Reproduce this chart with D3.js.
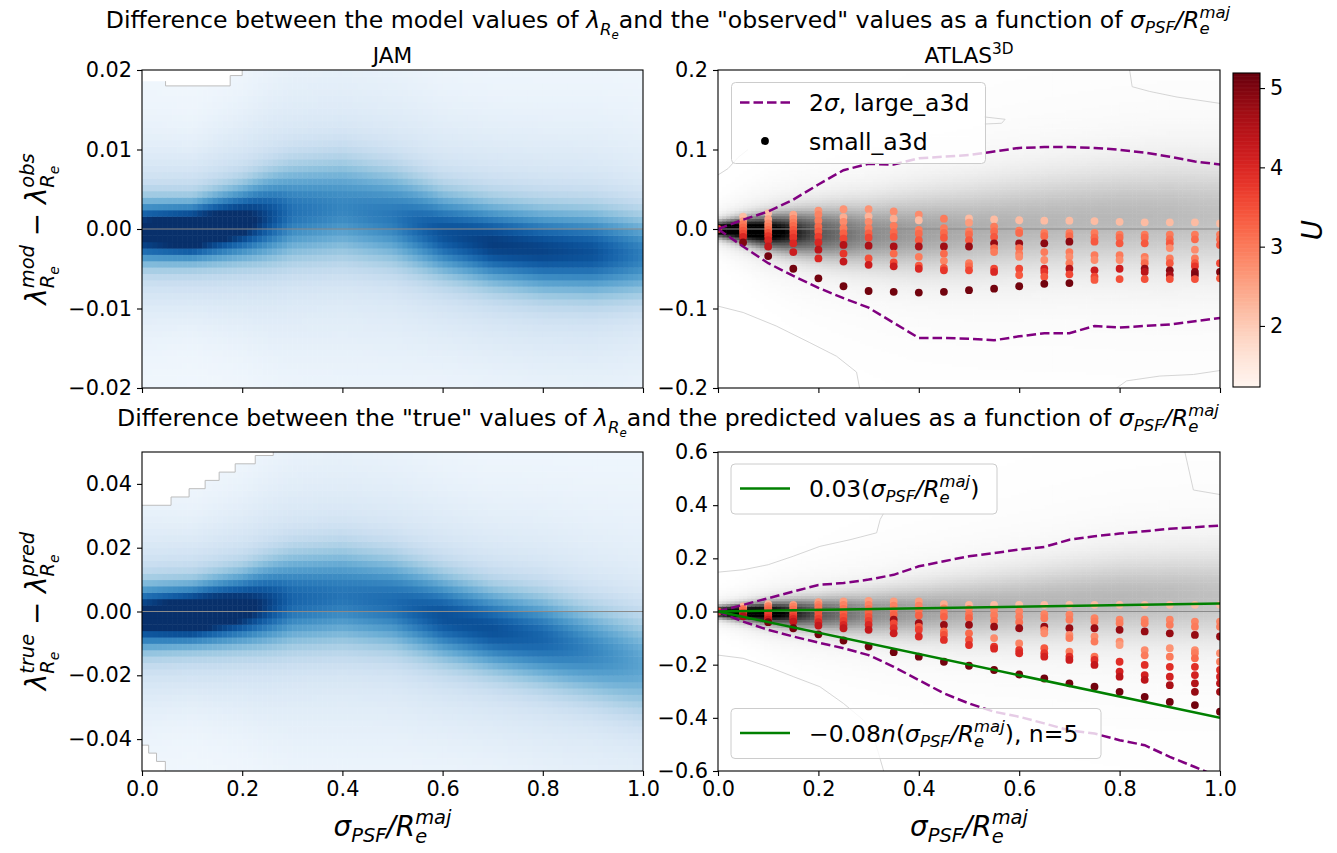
<!DOCTYPE html>
<html>
<head>
<meta charset="utf-8">
<script src="https://cdn.jsdelivr.net/npm/d3@7"></script>
<style>
body { margin: 0; background: #fff; }
text { font-family: "DejaVu Sans", sans-serif; white-space: pre; }
</style>
</head>
<body>
<script>
// ---------- data ----------

// JAM density ridge (blue panels): centre, width, peak at these x
var jamX = [0, 0.1, 0.2, 0.3, 0.4, 0.5, 0.6, 0.7, 0.8, 0.9, 1.0];
var jamTopCenter = [-0.0003, -0.0003, 0.0008, 0.0022, 0.0027, 0.0016, -0.0005, -0.0018, -0.0026, -0.0029, -0.0032];
var jamTopWidth  = [0.0024, 0.0022, 0.0028, 0.0039, 0.0042, 0.0039, 0.0034, 0.0033, 0.0034, 0.0035, 0.0035];
var jamTopPeak   = [0.85, 1.0, 0.83, 0.56, 0.5, 0.54, 0.66, 0.72, 0.7, 0.66, 0.52];
var jamBotCenter = [-0.0016, -0.0010, 0.0010, 0.0040, 0.0050, 0.0030, -0.0016, -0.0055, -0.0085, -0.0125, -0.0165];
var jamBotWidth  = [0.0062, 0.0057, 0.0070, 0.0094, 0.0100, 0.0094, 0.0086, 0.0084, 0.0090, 0.0096, 0.0107];
var jamBotPeak   = [0.85, 1.0, 0.83, 0.6, 0.55, 0.58, 0.66, 0.66, 0.6, 0.5, 0.4];

// ATLAS3D density ridge (grey panels)
var a3dX = [0, 0.05, 0.1, 0.15, 0.2, 0.3, 0.4, 0.5, 0.6, 0.7, 0.8, 0.9, 1.0];
var a3dTopCenter = [0, -0.001, -0.003, -0.004, -0.005, -0.006, -0.004, 0.0, 0.006, 0.011, 0.014, 0.016, 0.017];
var a3dTopWidth  = [0.007, 0.011, 0.015, 0.019, 0.023, 0.030, 0.036, 0.040, 0.043, 0.045, 0.047, 0.049, 0.050];
var a3dTopPeak   = [1.0, 1.0, 0.95, 0.78, 0.62, 0.46, 0.40, 0.36, 0.34, 0.33, 0.33, 0.32, 0.30];
var a3dBotCenter = [0, -0.002, -0.004, -0.006, -0.007, -0.006, 0.0, 0.012, 0.025, 0.040, 0.050, 0.055, 0.060];
var a3dBotWidth  = [0.015, 0.022, 0.030, 0.038, 0.046, 0.062, 0.076, 0.088, 0.098, 0.107, 0.115, 0.120, 0.125];
var a3dBotPeak   = [1.0, 1.0, 0.95, 0.78, 0.62, 0.46, 0.40, 0.36, 0.34, 0.33, 0.33, 0.32, 0.30];

// 2 sigma curves of large_a3d
var sigmaX = [0, 0.05, 0.1, 0.15, 0.2, 0.25, 0.3, 0.35, 0.4, 0.45, 0.5, 0.55, 0.6, 0.65, 0.7, 0.75, 0.8, 0.85, 0.9, 0.95, 1.0];
var topSigmaUp = [0, 0.0117, 0.022, 0.037, 0.056, 0.074, 0.082, 0.081, 0.089, 0.091, 0.093, 0.0975, 0.102, 0.103, 0.103, 0.102, 0.0996, 0.096, 0.091, 0.085, 0.081];
var topSigmaLo = [0, -0.022, -0.043, -0.059, -0.074, -0.087, -0.099, -0.118, -0.137, -0.137, -0.138, -0.140, -0.135, -0.131, -0.131, -0.122, -0.124, -0.122, -0.120, -0.116, -0.112];
var botSigmaUp = [0, 0.025, 0.050, 0.075, 0.100, 0.107, 0.120, 0.138, 0.170, 0.189, 0.208, 0.220, 0.233, 0.243, 0.270, 0.283, 0.293, 0.302, 0.311, 0.317, 0.323];
var botSigmaLo = [0, -0.038, -0.069, -0.094, -0.117, -0.138, -0.164, -0.208, -0.258, -0.308, -0.346, -0.377, -0.396, -0.421, -0.447, -0.459, -0.484, -0.503, -0.547, -0.585, -0.625];

// small_a3d points: one list of [value, U] per x column
var dotX = [0, 0.05, 0.1, 0.15, 0.2, 0.25, 0.3, 0.35, 0.4, 0.45, 0.5, 0.55, 0.6, 0.65, 0.7, 0.75, 0.8, 0.85, 0.9, 0.95, 1.0];
var topDots = [
  [[0, 3.6]],
  [[0.0155, 2.2], [0.010, 2.6], [0.006, 3.0], [0.002, 3.2], [-0.002, 3.4], [-0.006, 3.6], [-0.010, 4.0], [-0.017, 5.0]],
  [[0.020, 2.2], [0.0125, 2.5], [0.007, 2.8], [0.003, 3.0], [-0.001, 3.2], [-0.005, 3.5], [-0.009, 3.8], [-0.014, 4.0], [-0.022, 4.3], [-0.034, 5.1]],
  [[0.018, 2.5], [0.013, 2.8], [0.008, 3.0], [0.004, 3.2], [-0.001, 3.4], [-0.006, 3.6], [-0.011, 3.8], [-0.018, 4.0], [-0.029, 4.2], [-0.050, 5.1]],
  [[0.023, 2.7], [0.018, 2.9], [0.0105, 3.0], [0.003, 3.2], [-0.003, 3.4], [-0.0097, 3.7], [-0.017, 4.0], [-0.026, 4.4], [-0.037, 4.0], [-0.062, 5.1]],
  [[0.025, 2.7], [0.015, 2.4], [0.009, 2.8], [0.001, 3.0], [-0.0055, 3.3], [-0.012, 3.6], [-0.020, 4.5], [-0.031, 3.8], [-0.041, 4.3], [-0.072, 5.1]],
  [[0.025, 2.7], [0.016, 2.3], [0.009, 2.8], [0.001, 3.0], [-0.0055, 3.3], [-0.011, 3.6], [-0.021, 4.6], [-0.037, 3.5], [-0.045, 4.2], [-0.078, 5.1]],
  [[0.022, 2.8], [0.013, 2.4], [0.004, 3.0], [-0.004, 3.2], [-0.010, 3.4], [-0.022, 4.6], [-0.031, 3.2], [-0.042, 3.6], [-0.047, 4.2], [-0.079, 5.1]],
  [[0.018, 2.8], [0.011, 2.2], [-0.001, 3.0], [-0.006, 3.2], [-0.014, 3.4], [-0.022, 4.6], [-0.035, 3.0], [-0.046, 3.4], [-0.050, 4.0], [-0.080, 5.1]],
  [[0.013, 3.0], [0.001, 3.0], [-0.005, 3.2], [-0.011, 3.4], [-0.022, 4.7], [-0.031, 3.2], [-0.040, 2.9], [-0.049, 3.4], [-0.052, 3.8], [-0.079, 5.1]],
  [[0.0134, 2.2], [0.008, 2.6], [-0.003, 3.0], [-0.007, 3.2], [-0.014, 3.4], [-0.022, 4.8], [-0.043, 3.0], [-0.047, 3.2], [-0.052, 3.6], [-0.077, 5.1]],
  [[0.012, 2.2], [0.003, 3.0], [-0.003, 3.2], [-0.010, 3.4], [-0.018, 4.8], [-0.024, 3.2], [-0.029, 3.0], [-0.050, 3.6], [-0.054, 4.0], [-0.075, 5.1]],
  [[0.011, 2.2], [-0.002, 3.0], [-0.005, 3.2], [-0.018, 4.8], [-0.024, 3.2], [-0.031, 3.0], [-0.035, 2.8], [-0.050, 3.6], [-0.058, 3.4], [-0.072, 5.1]],
  [[0.0105, 2.2], [-0.005, 3.0], [-0.009, 3.2], [-0.018, 4.9], [-0.029, 3.0], [-0.039, 2.8], [-0.050, 4.2], [-0.054, 3.8], [-0.060, 3.4], [-0.069, 5.1]],
  [[0.0105, 2.2], [-0.005, 3.0], [-0.009, 3.2], [-0.016, 4.9], [-0.029, 3.0], [-0.035, 2.8], [-0.043, 3.0], [-0.050, 4.5], [-0.057, 3.6], [-0.068, 5.1]],
  [[0.010, 2.2], [-0.005, 3.0], [-0.011, 3.2], [-0.016, 3.4], [-0.033, 3.0], [-0.039, 2.8], [-0.052, 4.2], [-0.060, 3.6], [-0.064, 3.4]],
  [[0.009, 2.2], [-0.007, 3.0], [-0.011, 3.2], [-0.018, 3.4], [-0.033, 3.0], [-0.039, 2.8], [-0.050, 4.2], [-0.063, 3.5]],
  [[0.0084, 2.2], [-0.007, 3.0], [-0.011, 3.2], [-0.018, 3.4], [-0.035, 3.0], [-0.039, 2.8], [-0.043, 3.2], [-0.050, 4.8], [-0.054, 4.4], [-0.063, 3.5]],
  [[0.0084, 2.2], [-0.007, 3.0], [-0.013, 3.2], [-0.018, 3.4], [-0.024, 2.8], [-0.037, 3.0], [-0.043, 3.4], [-0.052, 4.9], [-0.058, 4.6], [-0.063, 3.5]],
  [[0.0084, 2.2], [-0.007, 3.0], [-0.013, 3.2], [-0.026, 2.8], [-0.037, 3.0], [-0.043, 3.4], [-0.047, 3.8], [-0.054, 4.9], [-0.058, 5.0], [-0.063, 3.5]],
  [[0.007, 2.2], [-0.007, 3.0], [-0.013, 3.2], [-0.020, 3.4], [-0.043, 3.6], [-0.054, 5.0], [-0.062, 3.4]]
];
var botDots = [
  [[0, 3.6]],
  [[0.019, 2.3], [0.010, 3.0], [0.004, 3.2], [-0.004, 3.5], [-0.012, 4.0], [-0.018, 4.6]],
  [[0.028, 2.3], [0.020, 2.9], [0.012, 3.1], [0.004, 3.3], [-0.006, 3.5], [-0.015, 3.7], [-0.024, 3.9], [-0.031, 4.2], [-0.040, 5.1]],
  [[0.025, 2.6], [0.018, 2.9], [0.008, 3.1], [-0.002, 3.3], [-0.012, 3.5], [-0.020, 3.7], [-0.028, 4.0], [-0.038, 4.3], [-0.063, 5.1]],
  [[0.035, 2.6], [0.025, 2.9], [0.015, 3.1], [0.0, 3.3], [-0.015, 3.5], [-0.028, 3.7], [-0.040, 4.0], [-0.053, 4.3], [-0.086, 5.1]],
  [[0.038, 2.6], [0.025, 2.9], [0.010, 3.1], [-0.005, 3.3], [-0.020, 3.5], [-0.035, 3.7], [-0.050, 4.0], [-0.063, 4.3], [-0.109, 5.1]],
  [[0.040, 2.6], [0.025, 2.9], [0.010, 3.1], [-0.005, 3.3], [-0.020, 3.5], [-0.035, 3.7], [-0.050, 4.0], [-0.069, 4.3], [-0.132, 5.1]],
  [[0.038, 2.6], [0.022, 2.9], [0.005, 3.1], [-0.012, 3.3], [-0.031, 4.7], [-0.045, 3.6], [-0.063, 3.9], [-0.082, 4.2], [-0.153, 5.1]],
  [[0.038, 2.6], [0.022, 2.9], [0.005, 3.1], [-0.015, 3.3], [-0.044, 4.7], [-0.058, 3.4], [-0.069, 3.7], [-0.094, 4.0], [-0.170, 5.1]],
  [[0.028, 2.4], [0.012, 2.9], [-0.005, 3.1], [-0.020, 3.3], [-0.050, 4.8], [-0.075, 3.2], [-0.088, 3.5], [-0.107, 3.9], [-0.189, 5.1]],
  [[0.025, 2.3], [0.010, 2.9], [-0.010, 3.1], [-0.025, 3.3], [-0.050, 4.8], [-0.082, 3.2], [-0.107, 3.5], [-0.126, 3.9], [-0.204, 5.1]],
  [[0.025, 2.2], [0.006, 2.9], [-0.015, 3.0], [-0.035, 3.1], [-0.057, 4.8], [-0.100, 2.8], [-0.132, 3.8], [-0.140, 4.0], [-0.220, 5.1]],
  [[0.025, 2.2], [0.0, 2.9], [-0.020, 3.0], [-0.040, 3.1], [-0.063, 4.8], [-0.120, 2.9], [-0.145, 3.8], [-0.157, 4.0], [-0.237, 5.1]],
  [[0.025, 2.2], [-0.010, 2.9], [-0.025, 3.0], [-0.057, 4.8], [-0.070, 3.0], [-0.082, 2.8], [-0.138, 3.4], [-0.157, 3.8], [-0.170, 4.1], [-0.252, 5.1]],
  [[0.025, 2.2], [-0.012, 2.9], [-0.031, 3.0], [-0.063, 4.8], [-0.088, 2.8], [-0.100, 3.0], [-0.151, 3.0], [-0.170, 3.9], [-0.182, 4.2], [-0.270, 5.1]],
  [[0.025, 2.2], [-0.025, 2.9], [-0.038, 3.0], [-0.063, 4.8], [-0.094, 2.8], [-0.113, 3.0], [-0.170, 3.1], [-0.182, 3.9], [-0.201, 4.3], [-0.283, 5.1]],
  [[0.025, 2.2], [-0.031, 2.9], [-0.044, 3.0], [-0.069, 4.8], [-0.113, 2.8], [-0.126, 2.6], [-0.189, 3.9], [-0.226, 4.1], [-0.245, 4.4], [-0.302, 5.1]],
  [[0.025, 2.2], [-0.031, 2.9], [-0.044, 3.0], [-0.075, 4.8], [-0.145, 2.8], [-0.165, 3.0], [-0.201, 3.9], [-0.239, 4.1], [-0.257, 4.4], [-0.321, 5.1]],
  [[0.025, 2.2], [-0.031, 2.9], [-0.050, 3.0], [-0.082, 4.8], [-0.138, 2.7], [-0.170, 3.0], [-0.208, 3.9], [-0.245, 4.1], [-0.277, 4.6], [-0.340, 5.1]],
  [[0.025, 2.2], [-0.038, 2.9], [-0.057, 3.0], [-0.088, 4.8], [-0.145, 2.8], [-0.157, 3.0], [-0.176, 3.2], [-0.208, 3.9], [-0.239, 4.1], [-0.270, 4.5], [-0.302, 4.8], [-0.352, 5.1]],
  [[0.025, 2.2], [-0.038, 2.9], [-0.057, 3.0], [-0.094, 4.8], [-0.157, 2.8], [-0.189, 3.0], [-0.220, 3.9], [-0.245, 4.1], [-0.270, 4.4], [-0.302, 4.7], [-0.377, 5.1]]
];

// fitted lines (coefficients from the legend)
var fitUpper = 0.03;
var fitLower = -0.08, fitN = 5;

// outer density contours [x, value]
var jamTopCorner = [[0.047, 0.0186], [0.047, 0.018], [0.176, 0.018], [0.176, 0.0193], [0.2, 0.0193], [0.2, 0.02]];
var jamBotCornerUp = [[0, 0.0333], [0.058, 0.0333], [0.058, 0.0359], [0.094, 0.0359], [0.094, 0.0385], [0.126, 0.0385], [0.126, 0.0411], [0.154, 0.0411], [0.154, 0.0437], [0.186, 0.0437], [0.186, 0.0463], [0.226, 0.0463], [0.226, 0.0489], [0.262, 0.0489], [0.262, 0.05]];
var jamBotCornerLo = [[0, -0.0419], [0.0133, -0.0419], [0.0133, -0.0444], [0.029, -0.0444], [0.029, -0.047], [0.0466, -0.047], [0.0466, -0.05]];
var a3dTopContours = [
  [[0, 0.068], [0.02, 0.076], [0.04, 0.09], [0.06, 0.10]],
  [[0.53, 0.141], [0.572, 0.138], [0.565, 0.133], [0.53, 0.132]],
  [[0.82, 0.2], [0.825, 0.179], [0.86, 0.173], [0.914, 0.166], [1.0, 0.158]],
  [[0, -0.097], [0.05, -0.105], [0.116, -0.122], [0.183, -0.143], [0.236, -0.16], [0.276, -0.18], [0.282, -0.2]],
  [[0.794, -0.2], [0.814, -0.191], [0.88, -0.185], [0.947, -0.183], [1.0, -0.178]]
];
var a3dBotContours = [
  [[0, 0.148], [0.05, 0.157], [0.1, 0.176], [0.15, 0.208], [0.203, 0.245], [0.263, 0.27], [0.316, 0.296], [0.323, 0.346], [0.33, 0.37]],
  [[0.93, 0.6], [0.947, 0.457], [1.0, 0.44]],
  [[0, -0.164], [0.05, -0.176], [0.1, -0.208], [0.15, -0.245], [0.203, -0.283], [0.25, -0.346], [0.29, -0.409], [0.31, -0.47], [0.33, -0.6]]
];

// ticks
var xTicks = [0, 0.2, 0.4, 0.6, 0.8, 1.0];
var jamTopTicks = [-0.02, -0.01, 0, 0.01, 0.02];
var jamBotTicks = [-0.04, -0.02, 0, 0.02, 0.04];
var a3dTopTicks = [-0.2, -0.1, 0, 0.1, 0.2];
var a3dBotTicks = [-0.6, -0.4, -0.2, 0, 0.2, 0.4, 0.6];
var uRange = [1.23, 5.19];
var uTicks = [2, 3, 4, 5];

// ---------- layout ----------
var svg = d3.select("body").append("svg").attr("width", 1337).attr("height", 853);
var tickFs = 20.8, labFs = 27.8, legFs = 23.5, tFs = 23.6;
var purple = "#800080", green = "#008000";

function measure(str, fs, it) {
  var t = svg.append("text").attr("font-size", fs).attr("font-style", it ? "italic" : "normal").text(str);
  var w = t.node().getComputedTextLength();
  t.remove();
  return w;
}

// draw text made of pieces {t, fs, o (baseline shift px), it, dx}
function mathText(x, y, parts, anchor, rot) {
  var txt = svg.append("text").attr("text-anchor", anchor || "start")
    .attr("transform", "translate(" + x + "," + y + ")" + (rot ? " rotate(-90)" : ""));
  var cur = 0;
  parts.forEach(function(p) {
    var o = p.o || 0;
    var ts = txt.append("tspan").attr("font-size", p.fs)
      .attr("font-style", p.it ? "italic" : "normal")
      .attr("dy", o - cur).text(p.t);
    if (p.dx) ts.attr("dx", p.dx);
    cur = o;
  });
  return txt;
}

// lambda_{R_e} with optional superscript
function lamRe(fs, sup) {
  var s1 = fs * 0.7, s2 = fs * 0.5;
  var parts = [{t: "λ", fs: fs, it: 1},
               {t: "R", fs: s1, it: 1, o: fs * 0.28},
               {t: "e", fs: s2, it: 1, o: fs * 0.45}];
  if (sup) {
    var back = measure("R", s1, 1) + measure("e", s2, 1);
    parts.push({t: sup, fs: s1, it: 1, o: -fs * 0.42, dx: -back});
  }
  return parts;
}
// sigma_PSF / R_e^maj
function psf(fs) {
  var s1 = fs * 0.7;
  return [{t: "σ", fs: fs, it: 1},
          {t: "PSF", fs: s1, it: 1, o: fs * 0.22},
          {t: "/", fs: fs, it: 1, o: 0},
          {t: "R", fs: fs, it: 1, o: 0},
          {t: "e", fs: s1, it: 1, o: fs * 0.25},
          {t: "maj", fs: s1, it: 1, o: -fs * 0.42, dx: -measure("e", s1, 1)}];
}

var panels = [
  {x0: 142, x1: 643, y0: 70, y1: 388, dom: [-0.02, 0.02], ticks: jamTopTicks, fmt: ".2f", xlab: false},
  {x0: 718, x1: 1220, y0: 70, y1: 388, dom: [-0.2, 0.2], ticks: a3dTopTicks, fmt: ".1f", xlab: false},
  {x0: 142, x1: 643, y0: 452, y1: 771, dom: [-0.05, 0.05], ticks: jamBotTicks, fmt: ".2f", xlab: true},
  {x0: 718, x1: 1220, y0: 452, y1: 771, dom: [-0.6, 0.6], ticks: a3dBotTicks, fmt: ".1f", xlab: true}
];
panels.forEach(function(p, i) {
  p.x = d3.scaleLinear([0, 1], [p.x0, p.x1]);
  p.y = d3.scaleLinear(p.dom, [p.y1, p.y0]);
  svg.append("clipPath").attr("id", "clip" + i).append("rect")
    .attr("x", p.x0).attr("y", p.y0).attr("width", p.x1 - p.x0).attr("height", p.y1 - p.y0);
  p.g = svg.append("g").attr("clip-path", "url(#clip" + i + ")");
});

function ridge(xs, cs, ws, ps, wingMul, wingW) {
  var c = d3.scaleLinear(xs, cs), w = d3.scaleLinear(xs, ws), pk = d3.scaleLinear(xs, ps);
  return function(xv, yv) {
    var z = (yv - c(xv)) / w(xv);
    return pk(xv) * (Math.exp(-0.5 * z * z) + wingW * Math.exp(-0.5 * (z / wingMul) * (z / wingMul)));
  };
}

function drawHeat(p, nx, ny, dens, color) {
  var cells = [];
  var dx = 1 / nx, dy = (p.dom[1] - p.dom[0]) / ny;
  for (var i = 0; i < nx; i++) {
    for (var j = 0; j < ny; j++) {
      var xv = i * dx, yv = p.dom[0] + j * dy;
      cells.push({x: xv, y: yv, v: dens(xv + dx / 2, yv + dy / 2)});
    }
  }
  var cw = p.x(dx) - p.x(0), ch = p.y(p.dom[0]) - p.y(p.dom[0] + dy);
  p.g.append("g").selectAll("rect").data(cells).join("rect")
    .attr("x", function(d) { return p.x(d.x); })
    .attr("y", function(d) { return p.y(d.y + dy); })
    .attr("width", cw + 0.5).attr("height", ch + 0.5)
    .attr("fill", function(d) { return color(d.v); });
}

var blue = function(v) { return d3.interpolateBlues(Math.min(1, 0.035 + 0.965 * v)); };
var grey = function(v) { return d3.interpolateGreys(Math.min(1, v)); };

drawHeat(panels[0], 100, 50, ridge(jamX, jamTopCenter, jamTopWidth, jamTopPeak, 2.8, 0.32), blue);
drawHeat(panels[2], 100, 50, ridge(jamX, jamBotCenter, jamBotWidth, jamBotPeak, 2.8, 0.32), blue);
drawHeat(panels[1], 120, 120, ridge(a3dX, a3dTopCenter, a3dTopWidth, a3dTopPeak, 2.4, 0.18), grey);
drawHeat(panels[3], 120, 120, ridge(a3dX, a3dBotCenter, a3dBotWidth, a3dBotPeak, 2.4, 0.18), grey);

// white corners outside the outer contour in the JAM panels
function corner(p, pts, closeTo) {
  var line = d3.line().x(function(d) { return p.x(d[0]); }).y(function(d) { return p.y(d[1]); });
  p.g.append("path").attr("d", line(closeTo.concat(pts)) + "Z").attr("fill", "#fff");
  p.g.append("path").attr("d", line(pts)).attr("fill", "none").attr("stroke", "#bdbdbd").attr("stroke-width", 1);
}
corner(panels[0], jamTopCorner, [[0, 0.02], [0, 0.0186]]);
corner(panels[2], jamBotCornerUp, [[0, 0.05]]);
corner(panels[2], jamBotCornerLo, [[0, -0.05]]);

function contours(p, list) {
  var line = d3.line().x(function(d) { return p.x(d[0]); }).y(function(d) { return p.y(d[1]); });
  list.forEach(function(c) {
    p.g.append("path").attr("d", line(c)).attr("fill", "none").attr("stroke", "#d0d0d0").attr("stroke-width", 0.9);
  });
}
contours(panels[1], a3dTopContours);
contours(panels[3], a3dBotContours);

// zero lines
panels.forEach(function(p) {
  p.g.append("line").attr("x1", p.x0).attr("x2", p.x1).attr("y1", p.y(0)).attr("y2", p.y(0))
    .attr("stroke", "#8a8a8a").attr("stroke-width", 1.2);
});

// scatter
var uScale = d3.scaleLinear(uRange, [0, 1]);
function dots(p, data) {
  var pts = [];
  data.forEach(function(col, i) { col.forEach(function(d) { pts.push({x: dotX[i], y: d[0], u: d[1]}); }); });
  p.g.append("g").selectAll("circle").data(pts).join("circle")
    .attr("cx", function(d) { return p.x(d.x); }).attr("cy", function(d) { return p.y(d.y); })
    .attr("r", 3.9).attr("fill", function(d) { return d3.interpolateReds(uScale(d.u)); });
}
dots(panels[1], topDots);
dots(panels[3], botDots);

// 2 sigma dashed curves
function dashed(p, ys) {
  var line = d3.line().x(function(d, i) { return p.x(sigmaX[i]); }).y(function(d) { return p.y(d); });
  p.g.append("path").attr("d", line(ys)).attr("fill", "none").attr("stroke", purple)
    .attr("stroke-width", 2.5).attr("stroke-dasharray", "9.5,4");
}
dashed(panels[1], topSigmaUp);
dashed(panels[1], topSigmaLo);
dashed(panels[3], botSigmaUp);
dashed(panels[3], botSigmaLo);

// fitted lines
[fitUpper, fitLower * fitN].forEach(function(k) {
  var p = panels[3];
  p.g.append("line").attr("x1", p.x(0)).attr("y1", p.y(0)).attr("x2", p.x(1)).attr("y2", p.y(k))
    .attr("stroke", green).attr("stroke-width", 2.5);
});

// frames and axes
panels.forEach(function(p) {
  var ax = svg.append("g").attr("transform", "translate(0," + p.y1 + ")")
    .call(d3.axisBottom(p.x).tickValues(xTicks).tickFormat(p.xlab ? d3.format(".1f") : "").tickSize(5).tickPadding(5));
  var ay = svg.append("g").attr("transform", "translate(" + p.x0 + ",0)")
    .call(d3.axisLeft(p.y).tickValues(p.ticks).tickFormat(d3.format(p.fmt)).tickSize(5).tickPadding(5));
  [ax, ay].forEach(function(a) {
    a.select(".domain").remove();
    a.selectAll("line").attr("stroke", "#000").attr("stroke-width", 1.1);
    a.selectAll("text").attr("font-size", tickFs).attr("fill", "#000").attr("font-family", "DejaVu Sans");
  });
  svg.append("rect").attr("x", p.x0).attr("y", p.y0).attr("width", p.x1 - p.x0).attr("height", p.y1 - p.y0)
    .attr("fill", "none").attr("stroke", "#000").attr("stroke-width", 1.1);
});

// legends
function legBox(x, y, w, h) {
  svg.append("rect").attr("x", x).attr("y", y).attr("width", w).attr("height", h).attr("rx", 4)
    .attr("fill", "#fff").attr("fill-opacity", 0.8).attr("stroke", "#cccccc").attr("stroke-width", 1);
}
legBox(731.5, 82.5, 254, 81);
svg.append("line").attr("x1", 740).attr("x2", 790).attr("y1", 102.5).attr("y2", 102.5)
  .attr("stroke", purple).attr("stroke-width", 2.5).attr("stroke-dasharray", "9.5,4");
mathText(809, 111, [{t: "2", fs: legFs}, {t: "σ", fs: legFs, it: 1}, {t: ", large_a3d", fs: legFs}]);
svg.append("circle").attr("cx", 765).attr("cy", 141).attr("r", 3.9).attr("fill", "#000");
mathText(809, 149.5, [{t: "small_a3d", fs: legFs}]);

legBox(731, 464, 266, 50);
svg.append("line").attr("x1", 740).attr("x2", 790).attr("y1", 488.5).attr("y2", 488.5)
  .attr("stroke", green).attr("stroke-width", 2.5);
mathText(809, 497, [{t: "0.03(", fs: legFs}].concat(psf(legFs)).concat([{t: ")", fs: legFs, o: 0}]));

legBox(731, 708.5, 370, 50);
svg.append("line").attr("x1", 740).attr("x2", 790).attr("y1", 733).attr("y2", 733)
  .attr("stroke", green).attr("stroke-width", 2.5);
mathText(809, 741.5, [{t: "−0.08", fs: legFs}, {t: "n", fs: legFs, it: 1}, {t: "(", fs: legFs}]
  .concat(psf(legFs)).concat([{t: "), n=5", fs: legFs, o: 0}]));

// colorbar
var cb = {x0: 1233, x1: 1260, y0: 73, y1: 387};
var cy = d3.scaleLinear(uRange, [cb.y1, cb.y0]);
var steps = d3.range(uRange[0], uRange[1], 0.01);
svg.append("g").selectAll("rect").data(steps).join("rect")
  .attr("x", cb.x0).attr("width", cb.x1 - cb.x0)
  .attr("y", function(d) { return cy(Math.min(d + 0.01, uRange[1])); })
  .attr("height", function(d) { return cy(d) - cy(Math.min(d + 0.01, uRange[1])) + 0.6; })
  .attr("fill", function(d) { return d3.interpolateReds(uScale(d + 0.005)); });
svg.append("rect").attr("x", cb.x0).attr("y", cb.y0).attr("width", cb.x1 - cb.x0).attr("height", cb.y1 - cb.y0)
  .attr("fill", "none").attr("stroke", "#000").attr("stroke-width", 1.1);
var ac = svg.append("g").attr("transform", "translate(" + cb.x1 + ",0)")
  .call(d3.axisRight(cy).tickValues(uTicks).tickFormat(d3.format("d")).tickSize(5).tickPadding(5));
ac.select(".domain").remove();
ac.selectAll("line").attr("stroke", "#000").attr("stroke-width", 1.1);
ac.selectAll("text").attr("font-size", tickFs).attr("fill", "#000").attr("font-family", "DejaVu Sans");
mathText(1322, 230, [{t: "U", fs: labFs, it: 1}], "middle", true);

// titles
mathText(668, 28, [{t: "Difference between the model values of ", fs: tFs}].concat(lamRe(tFs))
  .concat([{t: "and the \"observed\" values as a function of ", fs: tFs, o: 0}]).concat(psf(tFs)), "middle");
mathText(668, 426, [{t: "Difference between the \"true\" values of ", fs: tFs}].concat(lamRe(tFs))
  .concat([{t: "and the predicted values as a function of ", fs: tFs, o: 0}]).concat(psf(tFs)), "middle");
mathText(392.5, 63, [{t: "JAM", fs: tFs * 0.92}], "middle");
mathText(969, 63, [{t: "ATLAS", fs: tFs * 0.92}, {t: "3D", fs: tFs * 0.65, o: -tFs * 0.38}], "middle");

// axis labels
mathText(392.5, 836, psf(labFs), "middle");
mathText(969, 836, psf(labFs), "middle");
mathText(46, 229, lamRe(labFs, "mod").concat([{t: " − ", fs: labFs, o: 0}]).concat(lamRe(labFs, "obs")), "middle", true);
mathText(46, 611, lamRe(labFs, "true").concat([{t: " − ", fs: labFs, o: 0}]).concat(lamRe(labFs, "pred")), "middle", true);
</script>
</body>
</html>
